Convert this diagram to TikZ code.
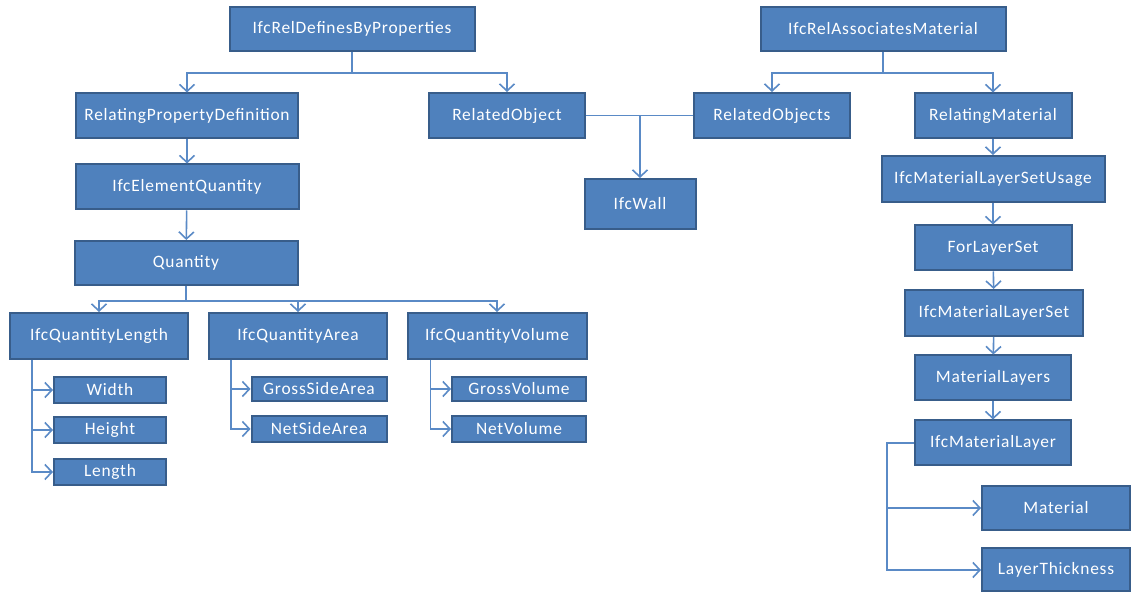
\documentclass[tikz,border=0pt]{standalone}
\usepackage{fontspec}
\setmainfont[LetterSpace=4.5]{Carlito}
\usetikzlibrary{arrows.meta}
\definecolor{boxfill}{HTML}{4F81BD}
\definecolor{boxline}{HTML}{385D8A}
\definecolor{linkline}{HTML}{5A8AC6}
\begin{document}
\begin{tikzpicture}[x=0.5pt,y=-0.5pt,
  cls/.style={draw=boxline, fill=boxfill, line width=1pt, text=white,
    font=\fontsize{8.7}{10}\selectfont, inner sep=0pt,
    minimum width=#1*0.5pt, minimum height=22.5pt},
  attr/.style={cls=#1, minimum height=13pt},
  link/.style={draw=linkline, line width=0.8pt},
  arr/.style={link, -{Straight Barb[length=3.5pt,width=7.5pt]}}]
  \useasboundingbox (0,0) rectangle (1131,592);
  % top level relations
  \node[cls=245, minimum height=22pt] (defprops) at (352,29) {IfcRelDefinesByProperties};
  \node[cls=245, minimum height=22pt] (assocmat) at (883,29) {IfcRelAssociatesMaterial};
  \node[cls=222] (relprop) at (187,116) {RelatingPropertyDefinition};
  \node[cls=156] (relobj) at (507,115.5) {RelatedObject};
  \node[cls=156] (relobjs) at (772,115.5) {RelatedObjects};
  \node[cls=157] (relmat) at (993,116) {RelatingMaterial};
  \node[cls=111, minimum height=25pt] (wall) at (640,204) {IfcWall};
  % quantities
  \node[cls=223] (elemq) at (187,187) {IfcElementQuantity};
  \node[cls=223, minimum height=22pt] (quantity) at (186,263) {Quantity};
  \node[cls=178, minimum height=23pt] (qlen) at (99,336) {IfcQuantityLength};
  \node[cls=178, minimum height=23pt] (qarea) at (298,336) {IfcQuantityArea};
  \node[cls=179, minimum height=23pt] (qvol) at (497,336) {IfcQuantityVolume};
  \node[attr=112] (width) at (110,390) {Width};
  \node[attr=112] (height) at (110,430) {Height};
  \node[attr=112] (length) at (110,472) {Length};
  \node[attr=135, minimum height=12pt] (gsa) at (319,389) {GrossSideArea};
  \node[attr=135] (nsa) at (319,429) {NetSideArea};
  \node[attr=134, minimum height=12pt] (gvol) at (519,389) {GrossVolume};
  \node[attr=134] (nvol) at (519,429) {NetVolume};
  % material layers
  \node[cls=223, minimum height=23pt] (mlsu) at (993,179) {IfcMaterialLayerSetUsage};
  \node[cls=157] (fls) at (993,248) {ForLayerSet};
  \node[cls=178, minimum height=23pt] (mls) at (994,313) {IfcMaterialLayerSet};
  \node[cls=156] (mlayers) at (993,378) {MaterialLayers};
  \node[cls=156] (mlayer) at (993,443) {IfcMaterialLayer};
  \node[cls=148, minimum height=22pt] (material) at (1056,508) {Material};
  \node[cls=148, minimum height=21.5pt] (thick) at (1056,570) {LayerThickness};

  \foreach \t in {relprop,relobj}
    \draw[arr] (defprops.south) -- ++(0,21) -| (\t.north);
  \foreach \t in {relobjs,relmat}
    \draw[arr] (assocmat.south) -- ++(0,21) -| (\t.north);
  \draw[link] (relobj.east) -- (relobjs.west);
  \draw[arr] (wall.north |- relobj.east) -- (wall.north);
  \draw[arr] (relprop) -- (elemq);
  \draw[arr] (elemq) -- (quantity);
  \foreach \t in {qlen,qarea,qvol}
    \draw[arr] (quantity.south) -- ++(0,15) -| (\t.north);
  \foreach \t in {width,height,length}
    \draw[arr] ([xshift=11.5pt]qlen.south west) |- (\t.west);
  \foreach \t in {gsa,nsa}
    \draw[arr] ([xshift=11.5pt]qarea.south west) |- (\t.west);
  \foreach \t in {gvol,nvol}
    \draw[arr] ([xshift=12pt]qvol.south west) |- (\t.west);
  \draw[arr] (relmat) -- (mlsu);
  \draw[arr] (mlsu) -- (fls);
  \draw[arr] (fls) -- (mls);
  \draw[arr] (mls) -- (mlayers);
  \draw[arr] (mlayers) -- (mlayer);
  \foreach \t in {material,thick}
    \draw[arr] (mlayer.west) -- ++(-27,0) |- (\t.west);
\end{tikzpicture}
\end{document}
